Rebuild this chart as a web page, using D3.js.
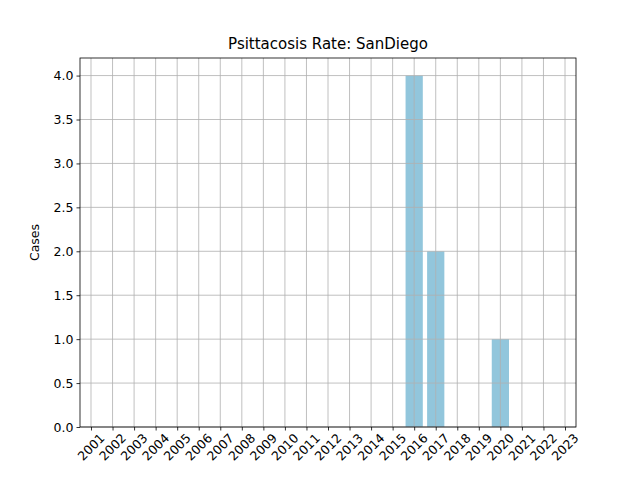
<!DOCTYPE html>
<html><head><meta charset="utf-8">
<script src="https://cdn.jsdelivr.net/npm/d3@7"></script>
<style>body{margin:0;background:#fff}text{font-family:"DejaVu Sans",sans-serif}</style>
</head><body>
<script>
var years = d3.range(2001, 2024).map(String);
var cases = [0,0,0,0,0,0,0,0,0,0,0,0,0,0,0,4,2,0,0,1,0,0,0];
var yTicks = [0,0.5,1,1.5,2,2.5,3,3.5,4];

var width = 640, height = 480,
    L = 80, R = 576, T = 58, B = 427;

var svg = d3.select("body").append("svg")
    .attr("width", width).attr("height", height);

var x = d3.scaleLinear().domain([-0.51, 22.51]).range([L, R]);
var y = d3.scaleLinear().domain([0, 4.2]).range([B, T]);

svg.selectAll(".bar").data(cases).enter().append("rect")
    .attr("x", function(d, i) { return x(i - 0.4); })
    .attr("width", x(0.8) - x(0))
    .attr("y", function(d) { return y(d); })
    .attr("height", function(d) { return B - y(d); })
    .attr("fill", "#92c6dc");

// grid on top of bars
svg.append("g").selectAll("line").data(years).enter().append("line")
    .attr("x1", function(d, i) { return x(i); }).attr("x2", function(d, i) { return x(i); })
    .attr("y1", T).attr("y2", B).attr("stroke", "#b0b0b0").attr("stroke-width", 0.8);
svg.append("g").selectAll("line").data(yTicks).enter().append("line")
    .attr("x1", L).attr("x2", R)
    .attr("y1", function(d) { return y(d); }).attr("y2", function(d) { return y(d); })
    .attr("stroke", "#b0b0b0").attr("stroke-width", 0.8);

var xAxis = svg.append("g").attr("transform", "translate(0," + B + ")")
    .call(d3.axisBottom(x).tickValues(d3.range(years.length))
        .tickFormat(function(i) { return years[i]; }).tickSize(3.5).tickSizeOuter(0));
xAxis.selectAll("text")
    .attr("font-size", 12.5).attr("text-anchor", "end")
    .attr("transform", "translate(4,2) rotate(-45)").attr("dy", "0.6em");
var yAxis = svg.append("g").attr("transform", "translate(" + L + ",0)")
    .call(d3.axisLeft(y).tickValues(yTicks).tickFormat(d3.format(".1f")).tickSize(3.5).tickSizeOuter(0));
yAxis.selectAll("text").attr("font-size", 12.5);
svg.selectAll(".domain").remove();
svg.selectAll(".tick line").attr("stroke", "#000").attr("stroke-width", 0.8);

svg.append("rect").attr("x", L).attr("y", T).attr("width", R - L).attr("height", B - T)
    .attr("fill", "none").attr("stroke", "#000").attr("stroke-width", 0.8);

svg.append("text").attr("x", (L + R) / 2).attr("y", 49).attr("text-anchor", "middle")
    .attr("font-size", 15).text("Psittacosis Rate: SanDiego");
svg.append("text").attr("transform", "translate(39," + ((T + B) / 2) + ") rotate(-90)")
    .attr("text-anchor", "middle").attr("font-size", 12.5).text("Cases");
svg.append("text").attr("x", (L + R) / 2).attr("y", 490).attr("text-anchor", "middle")
    .attr("font-size", 12.5).text("Year");
</script>
</body></html>
